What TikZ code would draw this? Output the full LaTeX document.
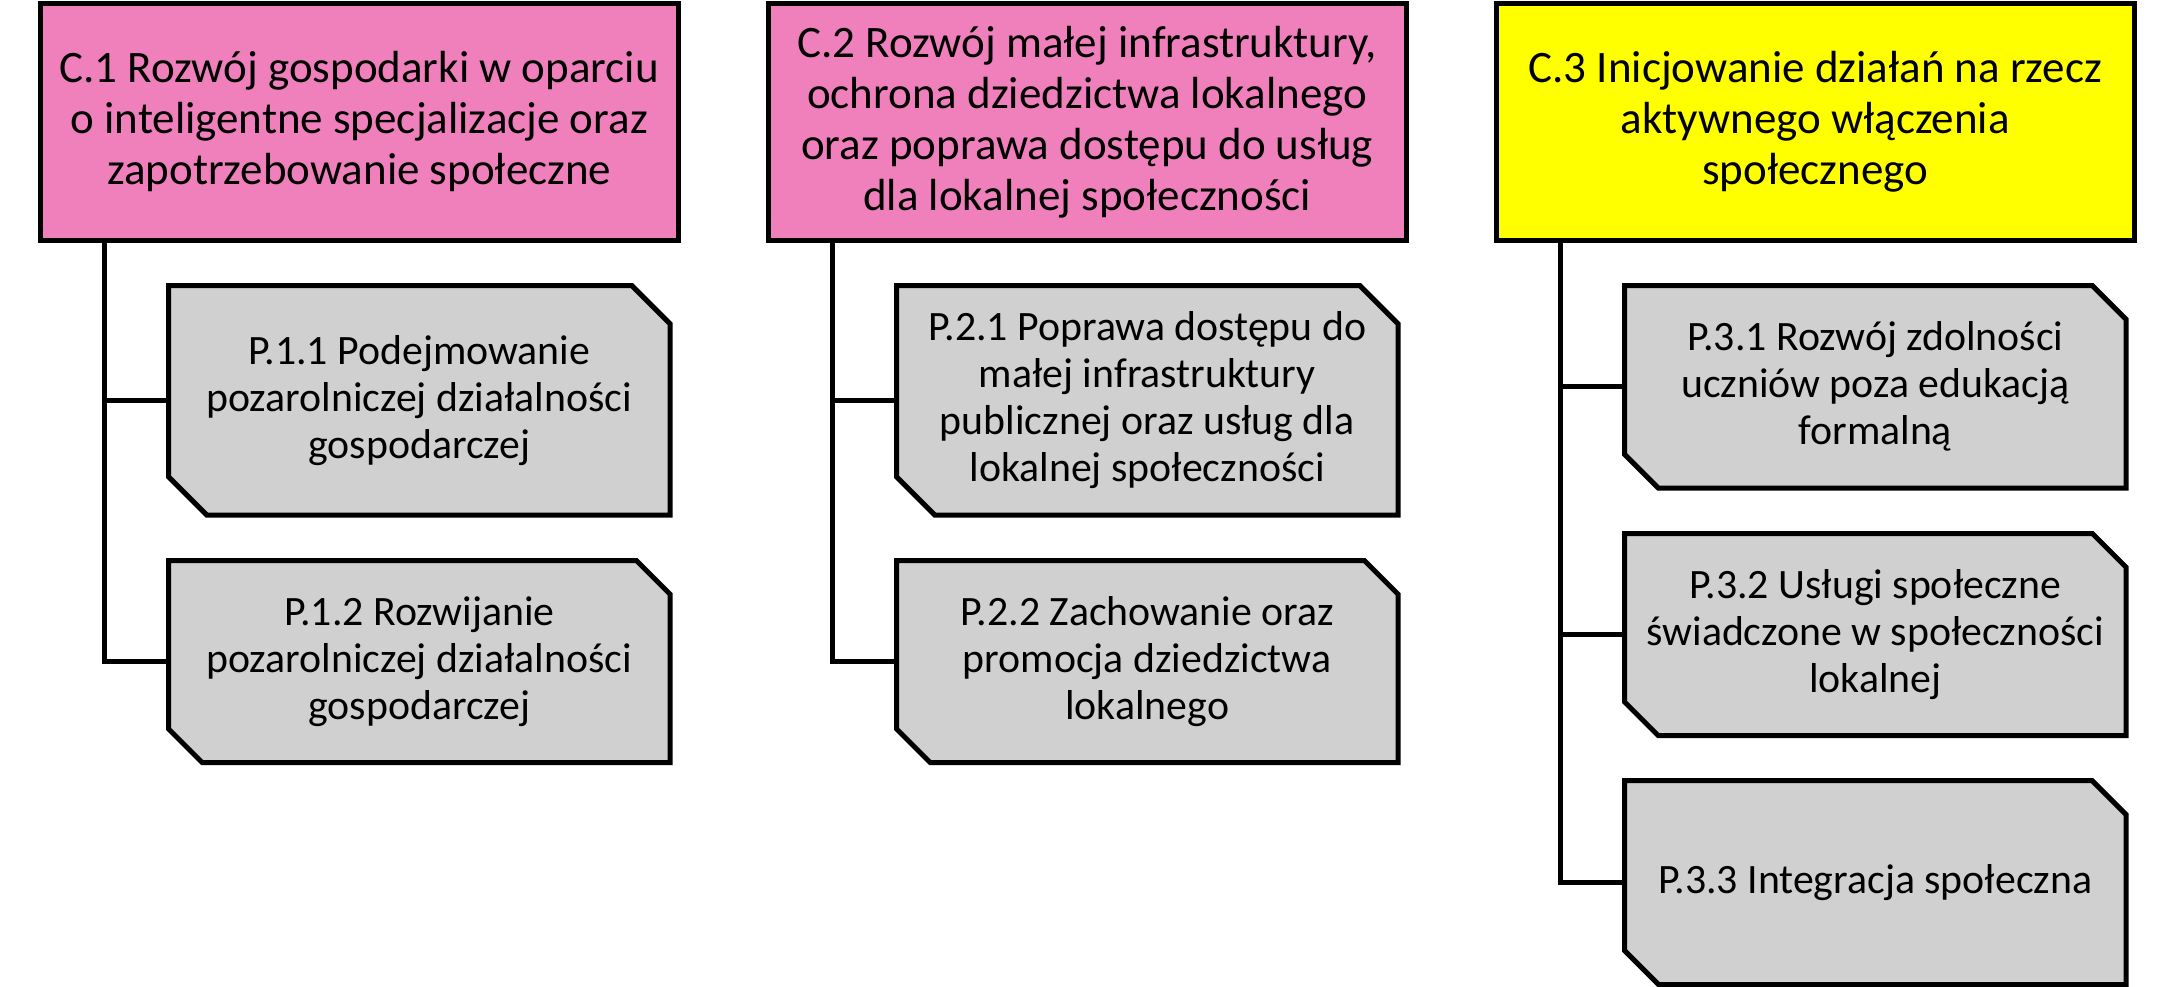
\documentclass[tikz,border=0pt]{standalone}
\usepackage{fontspec}
\setmainfont{Carlito}
\pgfdeclarelayer{background}
\pgfsetlayers{background,main}
\definecolor{cpink}{RGB}{239,128,187}
\definecolor{cgray}{RGB}{208,208,208}
\definecolor{cyel}{RGB}{255,255,0}
\tikzset{
  goal/.style={draw=black, line width=5pt, inner sep=0pt, outer sep=0pt, align=center,
    font=\fontsize{45}{51}\selectfont, minimum width=638.5pt, minimum height=237pt},
  sub/.style={draw=none, inner sep=0pt, outer sep=0pt, align=center,
    font=\fontsize{41.8}{47}\selectfont, minimum width=501.5pt},
  snipshape/.style={draw=black, fill=cgray, line width=5pt, line join=miter},
  conn/.style={draw=black, line width=5pt},
}
\newcommand\snipbox[2]{%
  \begin{pgfonlayer}{background}
  \path[snipshape] (#1.north west) -- ([xshift=-#2]#1.north east) -- ([yshift=-#2]#1.north east)
    -- (#1.south east) -- ([xshift=#2]#1.south west) -- ([yshift=#2]#1.south west) -- cycle;
  \end{pgfonlayer}}
\begin{document}
\begin{tikzpicture}[x=1pt,y=-1pt]
\useasboundingbox (0,0) rectangle (2174,987);

\node[goal, fill=cpink] (c1) at (359.25,122) {C.1 Rozwój gospodarki w oparciu\\o inteligentne specjalizacje oraz\\zapotrzebowanie społeczne};
\node[goal, fill=cpink] (c2) at (1087.25,122) {C.2 Rozwój małej infrastruktury,\\ochrona dziedzictwa lokalnego\\oraz poprawa dostępu do usług\\dla lokalnej społeczności};
\node[goal, fill=cyel] (c3) at (1815.25,122) {C.3 Inicjowanie działań na rzecz\\aktywnego włączenia\\społecznego};

\node[sub, minimum height=229.5pt] (p11) at (419.25,400.25) {P.1.1 Podejmowanie\\pozarolniczej działalności\\gospodarczej};
\snipbox{p11}{38.25pt}
\node[sub, minimum height=202pt] (p12) at (419.25,661.5) {P.1.2 Rozwijanie\\pozarolniczej działalności\\gospodarczej};
\snipbox{p12}{33.7pt}

\node[sub, minimum height=229.5pt] (p21) at (1147.25,400.25) {P.2.1 Poprawa dostępu do\\małej infrastruktury\\publicznej oraz usług dla\\lokalnej społeczności};
\snipbox{p21}{38.25pt}
\node[sub, minimum height=202pt] (p22) at (1147.25,661.5) {P.2.2 Zachowanie oraz\\promocja dziedzictwa\\lokalnego};
\snipbox{p22}{33.7pt}

\node[sub, minimum height=202.5pt] (p31) at (1875.25,386.75) {P.3.1 Rozwój zdolności\\uczniów poza edukacją\\formalną};
\snipbox{p31}{33.75pt}
\node[sub, minimum height=202pt] (p32) at (1875.25,634.5) {P.3.2 Usługi społeczne\\świadczone w społeczności\\lokalnej};
\snipbox{p32}{33.7pt}
\node[sub, minimum height=204pt] (p33) at (1875.25,882.5) {P.3.3 Integracja społeczna};
\snipbox{p33}{34pt}

\draw[conn] ([xshift=64.5pt]c1.south west) |- (p11.west);
\draw[conn] ([xshift=64.5pt]c1.south west) |- (p12.west);
\draw[conn] ([xshift=64.5pt]c2.south west) |- (p21.west);
\draw[conn] ([xshift=64.5pt]c2.south west) |- (p22.west);
\draw[conn] ([xshift=64.5pt]c3.south west) |- (p31.west);
\draw[conn] ([xshift=64.5pt]c3.south west) |- (p32.west);
\draw[conn] ([xshift=64.5pt]c3.south west) |- (p33.west);
\end{tikzpicture}
\end{document}
